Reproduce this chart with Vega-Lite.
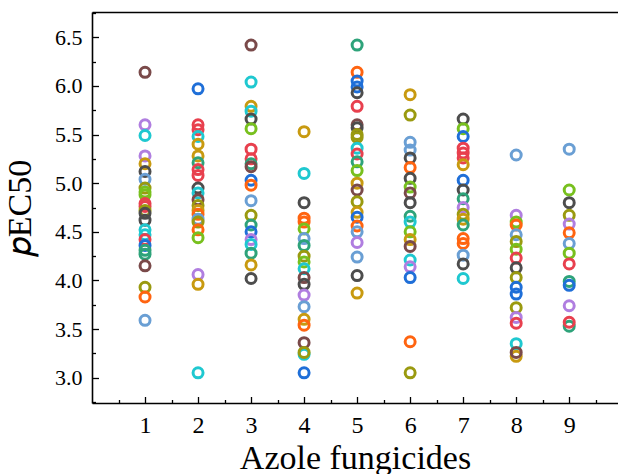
{
  "$schema": "https://vega.github.io/schema/vega-lite/v6.json",
  "autosize": {"type": "none"},
  "width": 526,
  "height": 391,
  "padding": {"left": 92, "top": 12, "right": 0, "bottom": 71},
  "background": "white",
  "config": {
    "view": {"stroke": null},
    "font": "Liberation Serif",
    "axis": {
      "grid": false,
      "domainColor": "black",
      "domainWidth": 1.6,
      "tickColor": "black",
      "tickWidth": 1.3,
      "labelColor": "black",
      "titleColor": "black",
      "labelFont": "Liberation Serif",
      "titleFont": "Liberation Serif",
      "titleFontWeight": "normal"
    }
  },
  "data": {
    "values": [
      {"x": 1, "y": 6.14, "s": "brown"}, {"x": 1, "y": 5.6, "s": "purple"}, {"x": 1, "y": 5.49, "s": "cyan"}, {"x": 1, "y": 5.28, "s": "purple"}, {"x": 1, "y": 5.2, "s": "gold"}, {"x": 1, "y": 5.12, "s": "darkgray"}, {"x": 1, "y": 5.04, "s": "lightblue"}, {"x": 1, "y": 4.95, "s": "olive"}, {"x": 1, "y": 4.91, "s": "green"}, {"x": 1, "y": 4.88, "s": "green"}, {"x": 1, "y": 4.79, "s": "red"}, {"x": 1, "y": 4.76, "s": "red"}, {"x": 1, "y": 4.72, "s": "olive"}, {"x": 1, "y": 4.69, "s": "darkgray"}, {"x": 1, "y": 4.62, "s": "darkgray"}, {"x": 1, "y": 4.52, "s": "cyan"}, {"x": 1, "y": 4.47, "s": "cyan"}, {"x": 1, "y": 4.42, "s": "red"}, {"x": 1, "y": 4.36, "s": "blue"}, {"x": 1, "y": 4.31, "s": "teal"}, {"x": 1, "y": 4.27, "s": "teal"}, {"x": 1, "y": 4.15, "s": "brown"}, {"x": 1, "y": 3.93, "s": "olive"}, {"x": 1, "y": 3.83, "s": "orange"}, {"x": 1, "y": 3.59, "s": "lightblue"},
      {"x": 2, "y": 5.97, "s": "blue"}, {"x": 2, "y": 5.6, "s": "red"}, {"x": 2, "y": 5.55, "s": "red"}, {"x": 2, "y": 5.48, "s": "cyan"}, {"x": 2, "y": 5.4, "s": "gold"}, {"x": 2, "y": 5.28, "s": "gold"}, {"x": 2, "y": 5.21, "s": "teal"}, {"x": 2, "y": 5.14, "s": "red"}, {"x": 2, "y": 5.08, "s": "red"}, {"x": 2, "y": 4.95, "s": "darkgray"}, {"x": 2, "y": 4.9, "s": "cyan"}, {"x": 2, "y": 4.83, "s": "brown"}, {"x": 2, "y": 4.77, "s": "olive"}, {"x": 2, "y": 4.72, "s": "gold"}, {"x": 2, "y": 4.68, "s": "orange"}, {"x": 2, "y": 4.63, "s": "lightblue"}, {"x": 2, "y": 4.6, "s": "olive"}, {"x": 2, "y": 4.52, "s": "orange"}, {"x": 2, "y": 4.44, "s": "green"}, {"x": 2, "y": 4.06, "s": "purple"}, {"x": 2, "y": 3.96, "s": "gold"}, {"x": 2, "y": 3.05, "s": "cyan"},
      {"x": 3, "y": 6.42, "s": "brown"}, {"x": 3, "y": 6.04, "s": "cyan"}, {"x": 3, "y": 5.79, "s": "gold"}, {"x": 3, "y": 5.74, "s": "cyan"}, {"x": 3, "y": 5.66, "s": "darkgray"}, {"x": 3, "y": 5.56, "s": "green"}, {"x": 3, "y": 5.35, "s": "red"}, {"x": 3, "y": 5.25, "s": "red"}, {"x": 3, "y": 5.2, "s": "teal"}, {"x": 3, "y": 5.17, "s": "brown"}, {"x": 3, "y": 5.03, "s": "blue"}, {"x": 3, "y": 4.98, "s": "orange"}, {"x": 3, "y": 4.82, "s": "lightblue"}, {"x": 3, "y": 4.67, "s": "olive"}, {"x": 3, "y": 4.57, "s": "teal"}, {"x": 3, "y": 4.5, "s": "blue"}, {"x": 3, "y": 4.42, "s": "purple"}, {"x": 3, "y": 4.37, "s": "cyan"}, {"x": 3, "y": 4.28, "s": "teal"}, {"x": 3, "y": 4.16, "s": "gold"}, {"x": 3, "y": 4.02, "s": "darkgray"},
      {"x": 4, "y": 5.53, "s": "gold"}, {"x": 4, "y": 5.1, "s": "cyan"}, {"x": 4, "y": 4.8, "s": "darkgray"}, {"x": 4, "y": 4.64, "s": "orange"}, {"x": 4, "y": 4.6, "s": "orange"}, {"x": 4, "y": 4.53, "s": "green"}, {"x": 4, "y": 4.43, "s": "lightblue"}, {"x": 4, "y": 4.36, "s": "teal"}, {"x": 4, "y": 4.25, "s": "olive"}, {"x": 4, "y": 4.19, "s": "green"}, {"x": 4, "y": 4.12, "s": "cyan"}, {"x": 4, "y": 4.03, "s": "brown"}, {"x": 4, "y": 3.96, "s": "darkgray"}, {"x": 4, "y": 3.85, "s": "purple"}, {"x": 4, "y": 3.73, "s": "lightblue"}, {"x": 4, "y": 3.6, "s": "gold"}, {"x": 4, "y": 3.54, "s": "orange"}, {"x": 4, "y": 3.36, "s": "brown"}, {"x": 4, "y": 3.24, "s": "cyan"}, {"x": 4, "y": 3.26, "s": "olive"}, {"x": 4, "y": 3.05, "s": "blue"},
      {"x": 5, "y": 6.42, "s": "teal"}, {"x": 5, "y": 6.14, "s": "orange"}, {"x": 5, "y": 6.05, "s": "blue"}, {"x": 5, "y": 5.99, "s": "blue"}, {"x": 5, "y": 5.93, "s": "darkgray"}, {"x": 5, "y": 5.79, "s": "red"}, {"x": 5, "y": 5.6, "s": "brown"}, {"x": 5, "y": 5.57, "s": "darkgray"}, {"x": 5, "y": 5.5, "s": "olive"}, {"x": 5, "y": 5.47, "s": "olive"}, {"x": 5, "y": 5.36, "s": "cyan"}, {"x": 5, "y": 5.3, "s": "red"}, {"x": 5, "y": 5.22, "s": "teal"}, {"x": 5, "y": 5.13, "s": "green"}, {"x": 5, "y": 5.0, "s": "gold"}, {"x": 5, "y": 4.93, "s": "brown"}, {"x": 5, "y": 4.81, "s": "olive"}, {"x": 5, "y": 4.7, "s": "gold"}, {"x": 5, "y": 4.65, "s": "blue"}, {"x": 5, "y": 4.56, "s": "orange"}, {"x": 5, "y": 4.5, "s": "lightblue"}, {"x": 5, "y": 4.39, "s": "purple"}, {"x": 5, "y": 4.24, "s": "lightblue"}, {"x": 5, "y": 4.05, "s": "darkgray"}, {"x": 5, "y": 3.87, "s": "gold"},
      {"x": 6, "y": 5.91, "s": "gold"}, {"x": 6, "y": 5.7, "s": "olive"}, {"x": 6, "y": 5.42, "s": "lightblue"}, {"x": 6, "y": 5.34, "s": "lightblue"}, {"x": 6, "y": 5.26, "s": "darkgray"}, {"x": 6, "y": 5.16, "s": "orange"}, {"x": 6, "y": 5.05, "s": "darkgray"}, {"x": 6, "y": 4.96, "s": "green"}, {"x": 6, "y": 4.9, "s": "brown"}, {"x": 6, "y": 4.8, "s": "darkgray"}, {"x": 6, "y": 4.66, "s": "teal"}, {"x": 6, "y": 4.6, "s": "cyan"}, {"x": 6, "y": 4.5, "s": "green"}, {"x": 6, "y": 4.42, "s": "gold"}, {"x": 6, "y": 4.35, "s": "brown"}, {"x": 6, "y": 4.21, "s": "cyan"}, {"x": 6, "y": 4.14, "s": "purple"}, {"x": 6, "y": 4.03, "s": "blue"}, {"x": 6, "y": 3.37, "s": "orange"}, {"x": 6, "y": 3.05, "s": "olive"},
      {"x": 7, "y": 5.66, "s": "darkgray"}, {"x": 7, "y": 5.56, "s": "green"}, {"x": 7, "y": 5.48, "s": "blue"}, {"x": 7, "y": 5.36, "s": "red"}, {"x": 7, "y": 5.31, "s": "red"}, {"x": 7, "y": 5.26, "s": "red"}, {"x": 7, "y": 5.19, "s": "gold"}, {"x": 7, "y": 5.03, "s": "blue"}, {"x": 7, "y": 4.93, "s": "darkgray"}, {"x": 7, "y": 4.84, "s": "teal"}, {"x": 7, "y": 4.75, "s": "purple"}, {"x": 7, "y": 4.68, "s": "olive"}, {"x": 7, "y": 4.63, "s": "gold"}, {"x": 7, "y": 4.57, "s": "teal"}, {"x": 7, "y": 4.43, "s": "orange"}, {"x": 7, "y": 4.38, "s": "orange"}, {"x": 7, "y": 4.26, "s": "lightblue"}, {"x": 7, "y": 4.17, "s": "darkgray"}, {"x": 7, "y": 4.02, "s": "cyan"},
      {"x": 8, "y": 5.29, "s": "lightblue"}, {"x": 8, "y": 4.67, "s": "purple"}, {"x": 8, "y": 4.6, "s": "green"}, {"x": 8, "y": 4.57, "s": "orange"}, {"x": 8, "y": 4.47, "s": "lightblue"}, {"x": 8, "y": 4.4, "s": "olive"}, {"x": 8, "y": 4.32, "s": "green"}, {"x": 8, "y": 4.23, "s": "red"}, {"x": 8, "y": 4.13, "s": "darkgray"}, {"x": 8, "y": 4.03, "s": "olive"}, {"x": 8, "y": 3.93, "s": "blue"}, {"x": 8, "y": 3.86, "s": "blue"}, {"x": 8, "y": 3.72, "s": "olive"}, {"x": 8, "y": 3.62, "s": "purple"}, {"x": 8, "y": 3.56, "s": "red"}, {"x": 8, "y": 3.35, "s": "cyan"}, {"x": 8, "y": 3.22, "s": "gold"}, {"x": 8, "y": 3.26, "s": "brown"},
      {"x": 9, "y": 5.35, "s": "lightblue"}, {"x": 9, "y": 4.93, "s": "green"}, {"x": 9, "y": 4.8, "s": "darkgray"}, {"x": 9, "y": 4.67, "s": "olive"}, {"x": 9, "y": 4.58, "s": "purple"}, {"x": 9, "y": 4.49, "s": "orange"}, {"x": 9, "y": 4.38, "s": "lightblue"}, {"x": 9, "y": 4.28, "s": "green"}, {"x": 9, "y": 4.17, "s": "red"}, {"x": 9, "y": 3.99, "s": "teal"}, {"x": 9, "y": 3.95, "s": "blue"}, {"x": 9, "y": 3.74, "s": "purple"}, {"x": 9, "y": 3.53, "s": "teal"}, {"x": 9, "y": 3.57, "s": "red"}
    ]
  },
  "layer": [
    {
      "mark": {"type": "point", "opacity": 0},
      "encoding": {
        "x": {"field": "x", "type": "quantitative", "scale": {"domain": [0, 9.92], "nice": false, "zero": false},
          "axis": {"orient": "top", "offset": -391, "values": [0.5, 1.5, 2.5, 3.5, 4.5, 5.5, 6.5, 7.5, 8.5, 9.5], "labels": false, "domain": false, "tickSize": 3.5, "title": null}},
        "y": {"field": "y", "type": "quantitative", "scale": {"domain": [2.74, 6.76], "nice": false, "zero": false},
          "axis": {"orient": "right", "offset": -526, "values": [2.75, 3.25, 3.75, 4.25, 4.75, 5.25, 5.75, 6.25, 6.75], "labels": false, "domain": false, "tickSize": 3.5, "title": null}}
      }
    },
    {
      "mark": {"type": "point", "opacity": 0},
      "encoding": {
        "x": {"field": "x", "type": "quantitative",
          "axis": {"orient": "top", "offset": -391, "values": [1, 2, 3, 4, 5, 6, 7, 8, 9], "labels": false, "domain": false, "tickSize": 6.5, "title": null}},
        "y": {"field": "y", "type": "quantitative",
          "axis": {"orient": "right", "offset": -526, "values": [3, 3.5, 4, 4.5, 5, 5.5, 6, 6.5], "labels": false, "domain": false, "tickSize": 6.5, "title": null}}
      }
    },
    {
      "mark": {"type": "point", "opacity": 0},
      "encoding": {
        "x": {"field": "x", "type": "quantitative",
          "axis": {"orient": "top", "ticks": false, "labels": false, "domain": true, "title": null}},
        "y": {"field": "y", "type": "quantitative", "axis": null}
      }
    },
    {
      "mark": {"type": "point", "filled": false, "size": 100, "strokeWidth": 3, "opacity": 1},
      "encoding": {
        "x": {"field": "x", "type": "quantitative",
          "axis": {"orient": "bottom", "values": [1, 2, 3, 4, 5, 6, 7, 8, 9], "ticks": false, "labelPadding": 10, "labelFontSize": 24, "title": "Azole fungicides", "titleFontSize": 34, "titlePadding": 4}},
        "y": {"field": "y", "type": "quantitative",
          "axis": {"orient": "left", "values": [3, 3.5, 4, 4.5, 5, 5.5, 6, 6.5], "format": ".1f", "ticks": false, "labelPadding": 10, "labelFontSize": 22, "title": "𝑝EC50", "titleFontSize": 34, "titlePadding": 17}},
        "color": {"field": "s", "type": "nominal", "legend": null,
          "scale": {"domain": ["brown", "purple", "cyan", "gold", "lightblue", "green", "red", "darkgray", "teal", "blue", "olive", "orange"],
                    "range": ["#7a4a4a", "#b07ee0", "#1fc8d0", "#c89a10", "#6a9fd4", "#78c01e", "#e8404e", "#4d4d4d", "#2ea37a", "#1f6fd8", "#9a9a10", "#ff6410"]}}
      }
    }
  ],
  "resolve": {"axis": {"x": "independent", "y": "independent"}}
}
